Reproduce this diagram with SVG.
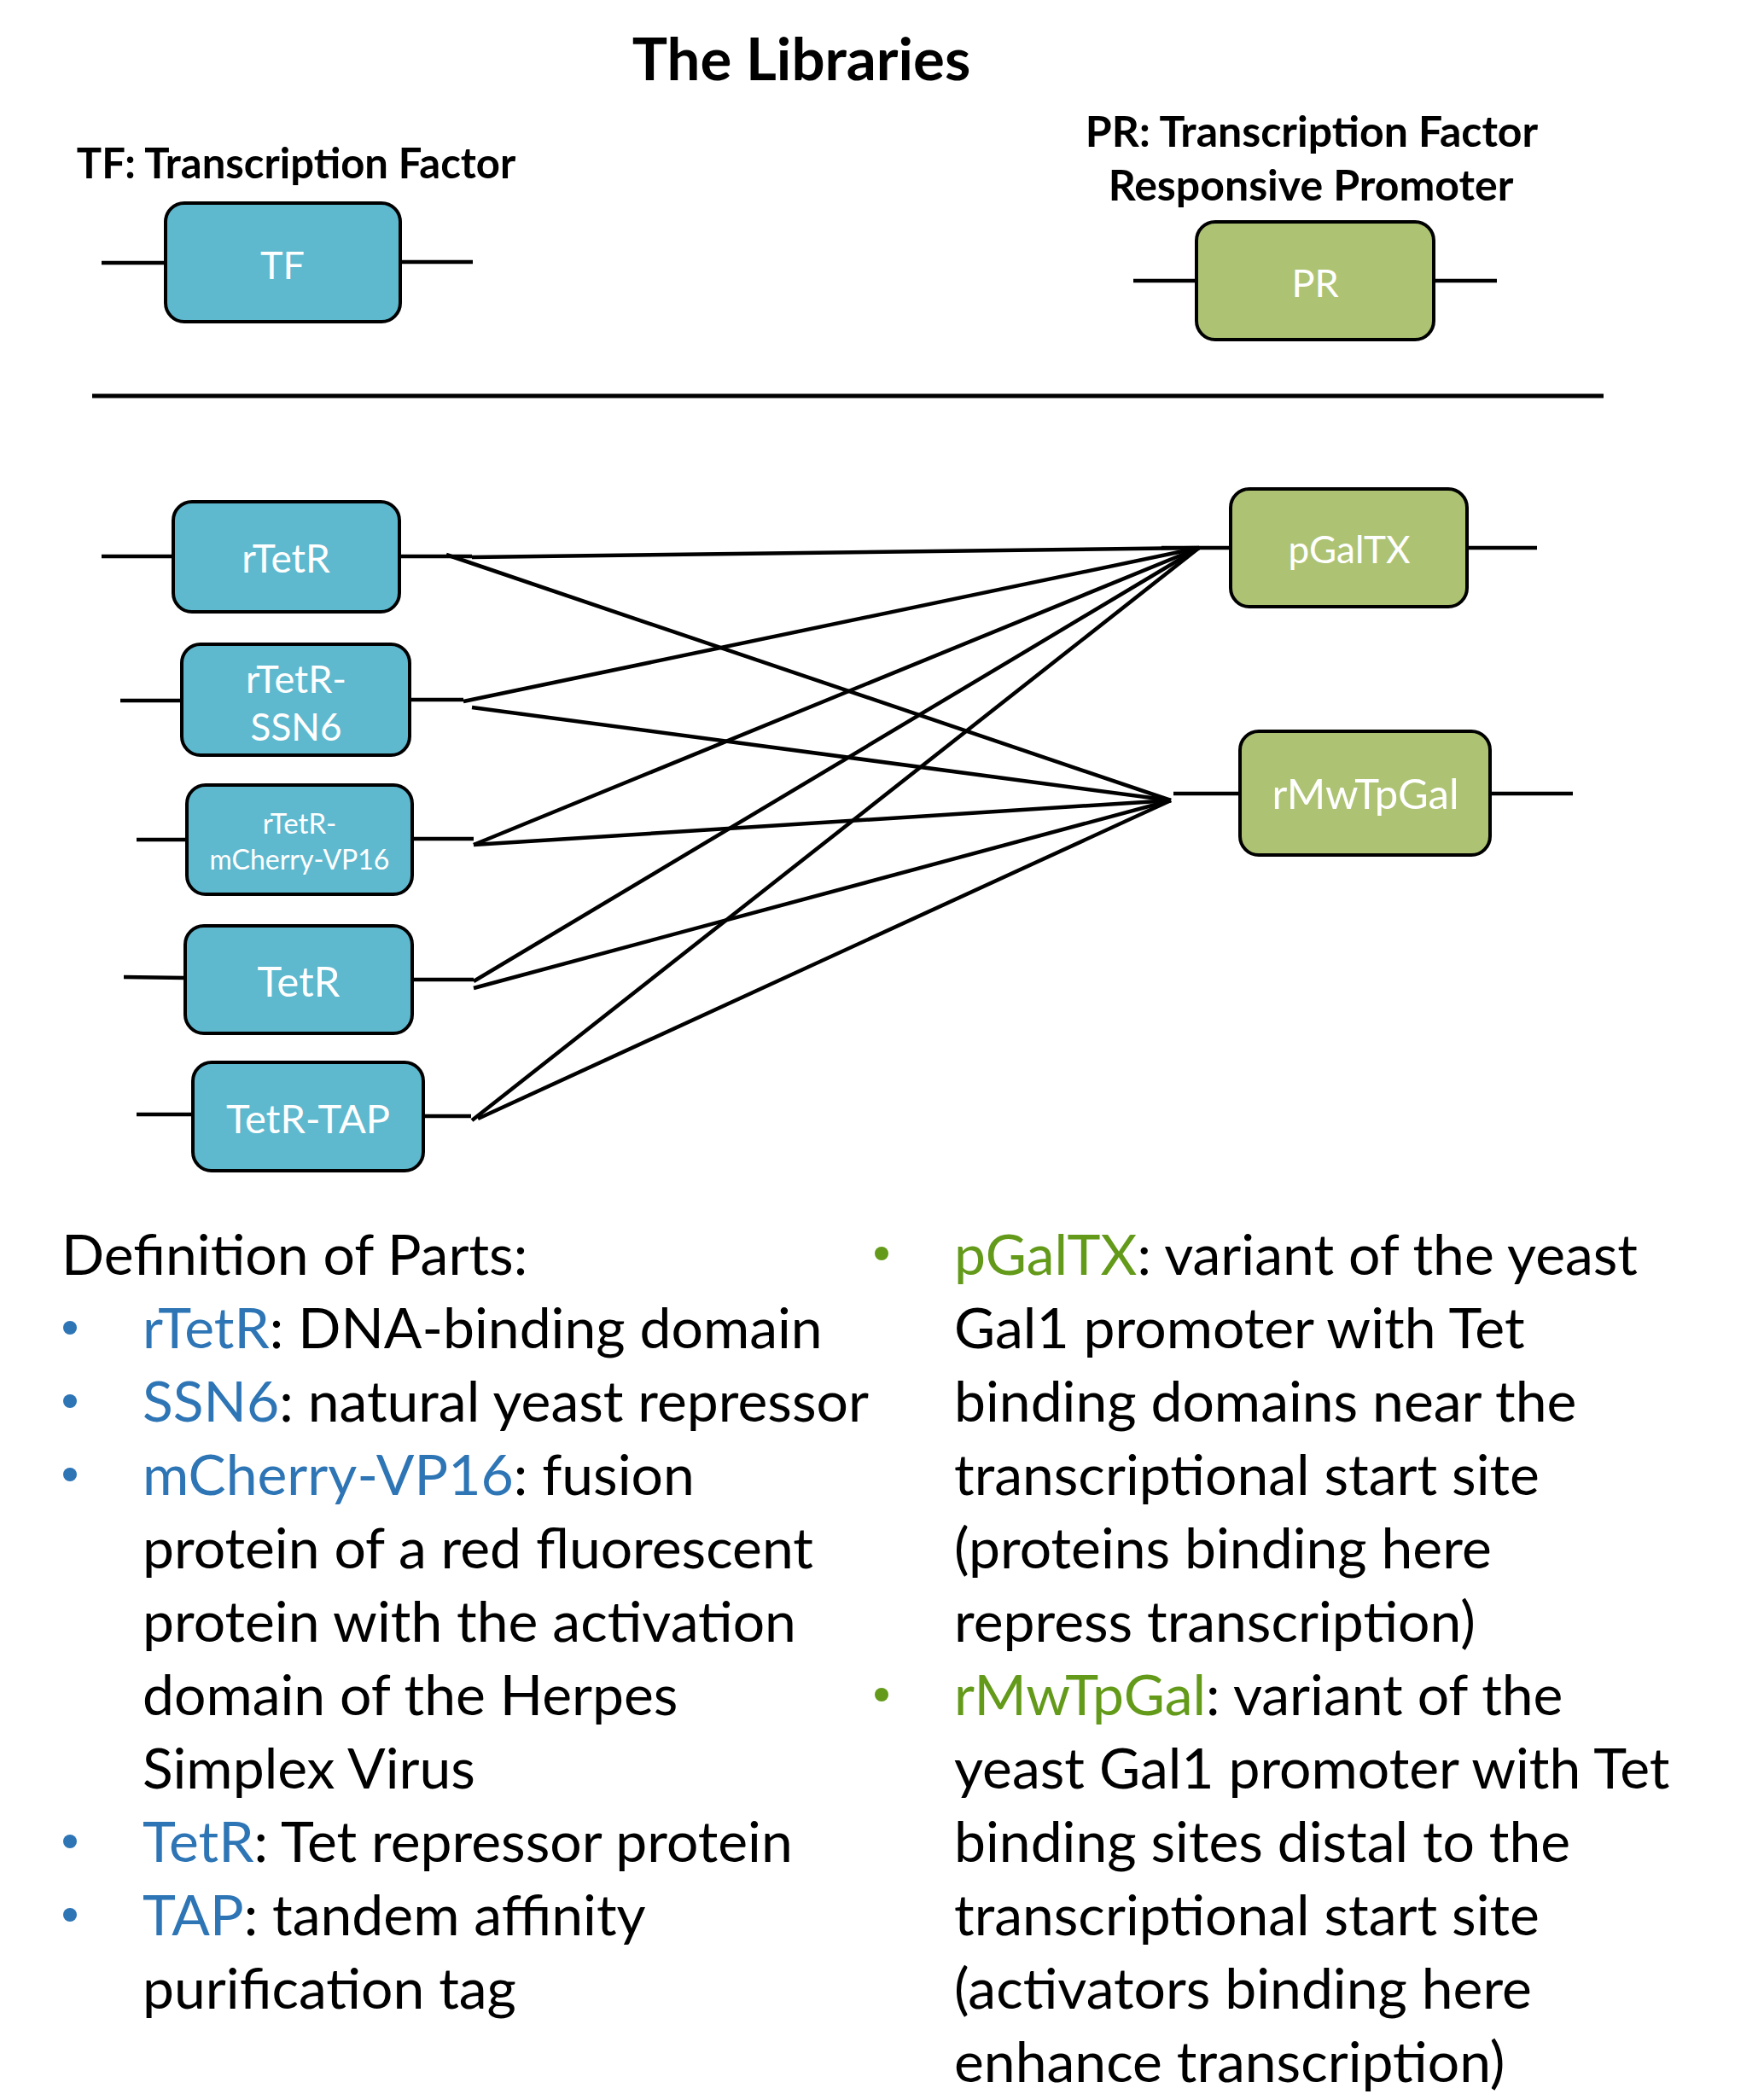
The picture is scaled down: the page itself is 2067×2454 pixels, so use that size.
<svg xmlns="http://www.w3.org/2000/svg" width="2067" height="2454" viewBox="0 0 2067 2454">
<style>
  .bg { fill: #ffffff; }
  .tf { fill: #5EB9CF; stroke: #000; stroke-width: 4; }
  .pr { fill: #ADC373; stroke: #000; stroke-width: 4; }
  .stub { stroke: #000; stroke-width: 4.5; fill: none; }
  .conn { stroke: #000; stroke-width: 4.5; fill: none; stroke-linecap: butt; }
  .lbl { font-family: Lato, "Open Sans", sans-serif; fill: #ffffff; text-anchor: middle; }
  .head { font-family: Lato, "Open Sans", sans-serif; font-weight: bold; fill: #000; text-anchor: middle; }
  .body { font-family: Lato, "Open Sans", sans-serif; font-size: 66px; fill: #000; }
  .blue { fill: #2E75B6; }
  .green { fill: #639A1A; }
</style>
<rect class="bg" x="0" y="0" width="2067" height="2454"/>

<g id="title">
  <text class="head" x="939" y="94" font-size="69">The Libraries</text>
</g>

<g id="legend-tf">
  <text class="head" x="347" y="209" font-size="49">TF: Transcription Factor</text>
  <line class="stub" x1="119" y1="308" x2="194" y2="308"/>
  <line class="stub" x1="469" y1="307" x2="554" y2="307"/>
  <rect class="tf" x="194" y="238" width="275" height="139" rx="22"/>
  <text class="lbl" x="331" y="327" font-size="45">TF</text>
</g>

<g id="legend-pr">
  <text class="head" x="1537" y="172" font-size="50">PR: Transcription Factor</text>
  <text class="head" x="1536" y="235" font-size="50">Responsive Promoter</text>
  <line class="stub" x1="1328" y1="329" x2="1402" y2="329"/>
  <line class="stub" x1="1680" y1="329" x2="1754" y2="329"/>
  <rect class="pr" x="1402" y="260" width="278" height="138" rx="22"/>
  <text class="lbl" x="1541" y="348" font-size="45">PR</text>
</g>

<g id="divider">
  <line x1="108" y1="464" x2="1879" y2="464" stroke="#000" stroke-width="5"/>
</g>

<g id="connectors">
  <line class="conn" x1="553" y1="653" x2="1405" y2="642"/>
  <line class="conn" x1="523" y1="650" x2="1372" y2="938"/>
  <line class="conn" x1="543" y1="822" x2="1405" y2="642"/>
  <line class="conn" x1="553" y1="829" x2="1372" y2="938"/>
  <line class="conn" x1="555" y1="990" x2="1405" y2="642"/>
  <line class="conn" x1="555" y1="990" x2="1372" y2="938"/>
  <line class="conn" x1="555" y1="1150" x2="1405" y2="642"/>
  <line class="conn" x1="555" y1="1158" x2="1372" y2="938"/>
  <line class="conn" x1="553" y1="1313" x2="1405" y2="642"/>
  <line class="conn" x1="560" y1="1311" x2="1372" y2="938"/>
</g>

<g id="node-rTetR">
  <line class="stub" x1="119" y1="652" x2="203" y2="652"/>
  <line class="stub" x1="467" y1="652" x2="553" y2="652"/>
  <rect class="tf" x="203" y="588" width="265" height="129" rx="22"/>
  <text class="lbl" x="335" y="671" font-size="46">rTetR</text>
</g>

<g id="node-rTetR-SSN6">
  <line class="stub" x1="141" y1="821" x2="213" y2="821"/>
  <line class="stub" x1="480" y1="820" x2="543" y2="820"/>
  <rect class="tf" x="213" y="755" width="267" height="130" rx="22"/>
  <text class="lbl" x="347" y="812" font-size="45">rTetR-</text>
  <text class="lbl" x="347" y="868" font-size="44">SSN6</text>
</g>

<g id="node-rTetR-mCherry-VP16">
  <line class="stub" x1="160" y1="984" x2="219" y2="984"/>
  <line class="stub" x1="483" y1="983" x2="555" y2="983"/>
  <rect class="tf" x="219" y="920" width="264" height="128" rx="22"/>
  <text class="lbl" x="351" y="977" font-size="33">rTetR-</text>
  <text class="lbl" x="351" y="1019" font-size="32">mCherry-VP16</text>
</g>

<g id="node-TetR">
  <line class="stub" x1="145" y1="1145" x2="217" y2="1146"/>
  <line class="stub" x1="483" y1="1148" x2="555" y2="1148"/>
  <rect class="tf" x="217" y="1085" width="266" height="126" rx="22"/>
  <text class="lbl" x="350" y="1168" font-size="49">TetR</text>
</g>

<g id="node-TetR-TAP">
  <line class="stub" x1="160" y1="1306" x2="226" y2="1306"/>
  <line class="stub" x1="496" y1="1308" x2="552" y2="1308"/>
  <rect class="tf" x="226" y="1245" width="270" height="127" rx="22"/>
  <text class="lbl" x="361" y="1328" font-size="47">TetR-TAP</text>
</g>

<g id="node-pGalTX">
  <line class="stub" x1="1361" y1="642" x2="1442" y2="642"/>
  <line class="stub" x1="1719" y1="642" x2="1801" y2="642"/>
  <rect class="pr" x="1442" y="573" width="277" height="138" rx="22"/>
  <text class="lbl" x="1581" y="660" font-size="44">pGalTX</text>
</g>

<g id="node-rMwTpGal">
  <line class="stub" x1="1375" y1="930" x2="1453" y2="930"/>
  <line class="stub" x1="1746" y1="930" x2="1843" y2="930"/>
  <rect class="pr" x="1453" y="857" width="293" height="145" rx="22"/>
  <text class="lbl" x="1600" y="948" font-size="49">rMwTpGal</text>
</g>

<g id="definitions-left">
  <text class="body" x="72" y="1494">Definition of Parts:</text>
  <circle class="blue" cx="82" cy="1556" r="8"/>
  <text class="body" x="167" y="1580"><tspan class="blue">rTetR</tspan>: DNA-binding domain</text>
  <circle class="blue" cx="82" cy="1642" r="8"/>
  <text class="body" x="167" y="1666"><tspan class="blue">SSN6</tspan>: natural yeast repressor</text>
  <circle class="blue" cx="82" cy="1728" r="8"/>
  <text class="body" x="167" y="1752"><tspan class="blue">mCherry-VP16</tspan>: fusion</text>
  <text class="body" x="167" y="1838">protein of a red fluorescent</text>
  <text class="body" x="167" y="1924">protein with the activation</text>
  <text class="body" x="167" y="2010">domain of the Herpes</text>
  <text class="body" x="167" y="2096">Simplex Virus</text>
  <circle class="blue" cx="82" cy="2158" r="8"/>
  <text class="body" x="167" y="2182"><tspan class="blue">TetR</tspan>: Tet repressor protein</text>
  <circle class="blue" cx="82" cy="2244" r="8"/>
  <text class="body" x="167" y="2268"><tspan class="blue">TAP</tspan>: tandem affinity</text>
  <text class="body" x="167" y="2354">purification tag</text>
</g>

<g id="definitions-right">
  <circle class="green" cx="1033" cy="1469" r="8"/>
  <text class="body" x="1118" y="1494"><tspan class="green">pGalTX</tspan>: variant of the yeast</text>
  <text class="body" x="1118" y="1580">Gal1 promoter with Tet</text>
  <text class="body" x="1118" y="1666">binding domains near the</text>
  <text class="body" x="1118" y="1752">transcriptional start site</text>
  <text class="body" x="1118" y="1838">(proteins binding here</text>
  <text class="body" x="1118" y="1924">repress transcription)</text>
  <circle class="green" cx="1033" cy="1986" r="8"/>
  <text class="body" x="1118" y="2010"><tspan class="green">rMwTpGal</tspan>: variant of the</text>
  <text class="body" x="1118" y="2096">yeast Gal1 promoter with Tet</text>
  <text class="body" x="1118" y="2182">binding sites distal to the</text>
  <text class="body" x="1118" y="2268">transcriptional start site</text>
  <text class="body" x="1118" y="2354">(activators binding here</text>
  <text class="body" x="1118" y="2440">enhance transcription)</text>
</g>
</svg>
